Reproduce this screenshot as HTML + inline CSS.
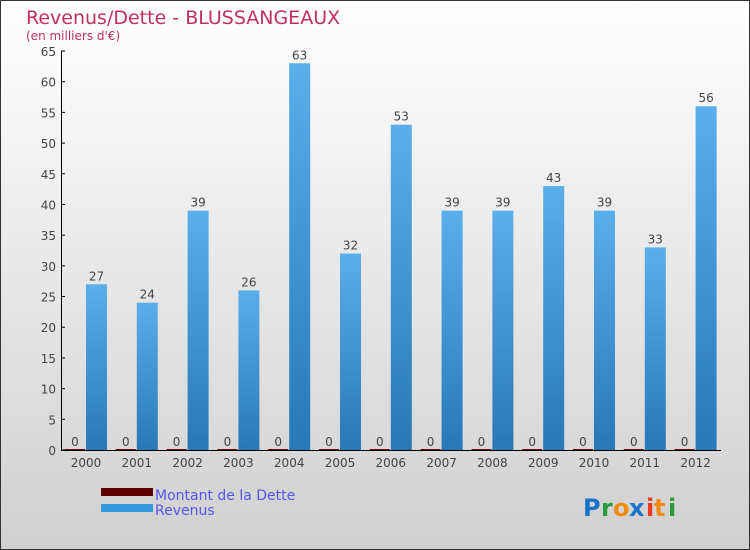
<!DOCTYPE html>
<html><head><meta charset="utf-8"><style>
body{margin:0}
#c{position:relative;width:748px;height:548px;border:1px solid #333;background:linear-gradient(#ffffff,#d0d0d0);font-family:"DejaVu Sans","Liberation Sans",sans-serif;overflow:hidden}
</style></head><body>
<div id="c">
<svg id="s" width="748" height="548" xmlns="http://www.w3.org/2000/svg">
<defs><linearGradient id="bg" x1="0" x2="0" y1="0" y2="1"><stop offset="0" stop-color="#5aaeea"/><stop offset="1" stop-color="#2878b8"/></linearGradient></defs>
<text x="25" y="23" font-size="19" fill="#c0305e">Revenus/Dette - BLUSSANGEAUX</text>
<text x="25" y="39" font-size="12" fill="#c0305e">(en milliers d'€)</text>
<g id="plot"></g>
<rect x="100" y="487" width="52" height="8" fill="#600000"/>
<text x="154" y="499" font-size="14" fill="#5555ee">Montant de la Dette</text>
<rect x="100" y="503" width="52" height="8" fill="#3399dd"/>
<text x="154" y="514" font-size="14" fill="#5555ee">Revenus</text>
<g font-size="24" font-weight="bold">
<text x="582" y="515" fill="#1a73c8">P</text><text x="600" y="515" fill="#2a9a3a">r</text><text x="612" y="515" fill="#f08a10">o</text><text x="628" y="515" fill="#1a73c8">x</text><text x="645" y="515" fill="#e83a1a">i</text><text x="653" y="515" fill="#f08a10">t</text><text x="667" y="515" fill="#2a9a3a">i</text>
</g>
</svg></div>
<script>
const years=["2000","2001","2002","2003","2004","2005","2006","2007","2008","2009","2010","2011","2012"];
const revenus=[27,24,39,26,63,32,53,39,39,43,39,33,56];
const dette=[0,0,0,0,0,0,0,0,0,0,0,0,0];
const yTicks=[0,5,10,15,20,25,30,35,40,45,50,55,60,65];
const NS="http://www.w3.org/2000/svg";
const g=document.getElementById('plot');
const y0=449,y1=50,vmax=65,x0=84,step=50.8;
const Y=v=>y0-(v/vmax)*(y0-y1);
const X=i=>x0+i*step;
function mk(t,a){const e=document.createElementNS(NS,t);for(const k in a)e.setAttribute(k,a[k]);g.appendChild(e);return e;}
yTicks.forEach(v=>{
 const t=mk('text',{x:55,y:Y(v)+5,'text-anchor':'end','font-size':12,fill:'#444'});t.textContent=v;
 
 
 const l=mk('line',{x1:60,x2:64,y1:Y(v),y2:Y(v),stroke:'#000'});
 
 
});
years.forEach((yr,i)=>{
 const cx=X(i);
 const d=mk('rect',{x:cx-20,y:Y(dette[i])-1,width:20,height:(y0-Y(dette[i]))+1,fill:'#700000'});
 
 
 const dl=mk('text',{x:cx-10,y:Y(dette[i])-4,'text-anchor':'middle','font-size':12,fill:'#444'});dl.textContent=dette[i];
 
 
 const r=mk('rect',{x:cx+1,y:Y(revenus[i]),width:21,height:y0-Y(revenus[i]),fill:'url(#bg)'});
 
 
 const rl=mk('text',{x:cx+11.5,y:Y(revenus[i])-4,'text-anchor':'middle','font-size':12,fill:'#444'});rl.textContent=revenus[i];
 
 
 const xl=mk('text',{x:cx+1,y:466,'text-anchor':'middle','font-size':12,fill:'#444'});xl.textContent=yr;
 
 
});
const ax=mk('line',{x1:60.5,x2:60.5,y1:y1,y2:y0+0.5,stroke:'#000'});


const bx=mk('line',{x1:60,x2:720,y1:y0+0.5,y2:y0+0.5,stroke:'#000'});


</script>
</body></html>
